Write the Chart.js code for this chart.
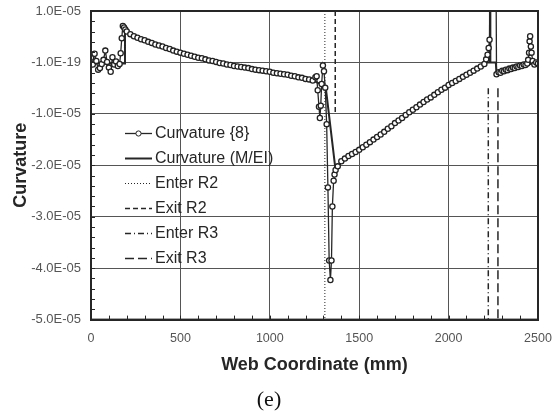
<!DOCTYPE html>
<html lang="en">
<head>
<meta charset="UTF-8">
<title>Curvature along web</title>
<style>
  html, body { margin: 0; padding: 0; background: #fff; }
  #wrap { width: 555px; height: 418px; }
</style>
</head>
<body>
<div id="wrap"><canvas id="chart" width="555" height="418"></canvas></div>

<script src="https://cdn.jsdelivr.net/npm/chart.js"></script>
<script>
  // values are in units of 1e-6 (converted below)
  const curv8X = [0, 10, 20, 30, 40, 50, 60, 70, 80, 90, 100, 110, 120, 130, 140, 150, 160, 166, 172, 178, 185, 192, 200,
    220, 240, 260, 280, 300, 320, 340, 360, 380, 400, 420, 440, 460, 480, 500, 520, 540, 560, 580, 600,
    620, 640, 660, 680, 700, 720, 740, 760, 780, 800, 820, 840, 860, 880, 900, 920, 940, 960, 980, 1000,
    1020, 1040, 1060, 1080, 1100, 1120, 1140, 1160, 1180, 1200, 1220, 1240,
    1255, 1262, 1268, 1275, 1280, 1285, 1290, 1297, 1303, 1310, 1318, 1325, 1332, 1339, 1345, 1350, 1357, 1362, 1368,
    1380, 1400, 1420, 1440, 1460, 1480, 1500, 1520, 1540, 1560, 1580, 1600, 1620, 1640, 1660, 1680, 1700,
    1720, 1740, 1760, 1780, 1800, 1820, 1840, 1860, 1880, 1900, 1920, 1940, 1960, 1980, 2000,
    2020, 2040, 2060, 2080, 2100, 2120, 2140, 2160, 2180, 2200,
    2210, 2218, 2224, 2229, 2234, 2262, 2268,
    2280, 2290, 2300, 2310, 2320, 2330, 2340, 2350, 2360, 2370, 2380, 2390, 2400, 2410, 2420, 2430, 2440,
    2445, 2450, 2453, 2456, 2460, 2464, 2470, 2480, 2490, 2500];
  const curv8Y = [0.9, -0.4, 1.7, 0.3, -1.4, -1.1, -0.3, 0.5, 2.3, 0.1, -1.0, -1.8, 1.0, -0.4, 0.2, -0.7, -0.3, 1.8, 4.7, 7.1, 6.8, 6.4, 6.0,
    5.5, 5.1, 4.8, 4.5, 4.3, 4.0, 3.8, 3.5, 3.3, 3.1, 2.8, 2.6, 2.3, 2.1, 1.9, 1.7, 1.5, 1.3, 1.1, 0.9,
    0.8, 0.6, 0.4, 0.3, 0.1, -0.1, -0.2, -0.4, -0.5, -0.7, -0.8, -0.9, -1.0, -1.1, -1.3, -1.4, -1.5, -1.6, -1.7, -1.8,
    -2.0, -2.1, -2.2, -2.3, -2.4, -2.6, -2.7, -2.9, -3.0, -3.2, -3.3, -3.5,
    -2.9, -2.7, -5.4, -8.6, -10.8, -8.4, -4.2, -0.6, -1.7, -4.9, -12.0, -24.3, -38.5, -42.3, -38.5, -28.0, -23.0, -21.8, -20.9,
    -20.2, -19.2, -18.7, -18.2, -17.8, -17.4, -17.0, -16.5, -16.0, -15.5, -15.0, -14.5, -14.0, -13.5, -12.9, -12.4, -11.8,
    -11.3, -10.8, -10.2, -9.7, -9.2, -8.7, -8.2, -7.7, -7.2, -6.8, -6.3, -5.8, -5.3, -4.9, -4.4,
    -4.0, -3.6, -3.2, -2.8, -2.4, -2.0, -1.6, -1.2, -0.8, -0.3,
    0.6, 1.5, 2.8, 4.4, 40, 40, -2.3,
    -1.9, -2.0, -1.6, -1.7, -1.4, -1.5, -1.2, -1.3, -1.0, -1.1, -0.8, -0.9, -0.6, -0.7, -0.4, -0.5, -0.2,
    0.5, 1.9, 4.1, 5.1, 3.1, 1.9, 0.3, -0.4, 0.0, -0.2];

  const meiX = [0, 185, 190, 200, 300, 400, 500, 700, 1000, 1240, 1290, 1313, 1368, 1400, 1500, 1700, 2000, 2200,
    2206, 2231, 2232, 2233, 2234, 2264, 2268, 2300, 2400, 2500];
  const meiY = [-0.2, -0.2, 6.8, 6.0, 4.3, 3.1, 1.9, 0.1, -1.8, -3.5, -4.3, -4.9, -21.0, -19.4, -17.0, -12.0, -4.4, -0.3,
    0.0, 0.0, 40, 40, 0.0, 0.0, -2.2, -1.7, -0.7, 0.0];

  // region boundaries: x position, y from / to (1e-6)
  const enterR2 = [1308, 10, -50];
  const exitR2 = [1366, 10, -10];
  const enterR3 = [2222, -5, -50];
  const exitR3 = [2276, -5, -50];

  const xTicks = [0, 500, 1000, 1500, 2000, 2500];
  const yTicks = [1e-5, 0, -1e-5, -2e-5, -3e-5, -4e-5, -5e-5];

  const toPts = (xs, ys) => xs.map((x, i) => ({ x: x, y: ys[i] * 1e-6 }));
  const vline = (v) => [{ x: v[0], y: v[1] * 1e-6 }, { x: v[0], y: v[2] * 1e-6 }];

  function fmtE(v) {
    if (Math.abs(v) < 1e-12) return '-1.0E-19';
    const parts = v.toExponential(1).split('e');
    const ex = parseInt(parts[1], 10);
    return parts[0] + 'E' + (ex < 0 ? '-' : '+') + String(Math.abs(ex)).padStart(2, '0');
  }

  // keep tick label overhang out of the layout, the page padding handles it
  function noPad(s) {
    s.paddingTop = 0; s.paddingBottom = 0; s.paddingLeft = 0; s.paddingRight = 0;
  }

  const INK = '#262626';
  const FONT = "'Liberation Sans', Arial, sans-serif";

  // frame, minor ticks and the in-plot legend
  const extras = {
    id: 'extras',
    beforeDraw(chart) {
      const c = chart.ctx;
      c.save();
      c.fillStyle = '#fff';
      c.fillRect(0, 0, chart.width, chart.height);
      c.restore();
    },
    afterDraw(chart) {
      const c = chart.ctx;
      const a = chart.chartArea;
      const xs = chart.scales.x, ys = chart.scales.y;
      c.save();
      c.strokeStyle = INK;
      c.lineWidth = 1;
      for (let i = 0; i <= 30; i++) {
        const py = Math.round(ys.getPixelForValue(-5e-5 + i * 2e-6)) + 0.5;
        c.beginPath(); c.moveTo(a.left, py); c.lineTo(a.left + 4, py); c.stroke();
      }
      for (let i = 0; i <= 25; i++) {
        const px = Math.round(xs.getPixelForValue(i * 100)) + 0.5;
        c.beginPath(); c.moveTo(px, a.bottom); c.lineTo(px, a.bottom - 4); c.stroke();
      }
      c.lineWidth = 2;
      c.strokeRect(a.left, a.top, a.right - a.left, a.bottom - a.top);

      // legend
      const lx0 = 125, lx1 = 152, ty0 = 133, step = 25;
      c.font = '16px ' + FONT;
      c.textBaseline = 'middle';
      c.fillStyle = INK;
      chart.data.datasets.forEach((ds, i) => {
        const y = ty0 + i * step + 0.5;
        c.strokeStyle = ds.borderColor;
        c.lineWidth = ds.borderWidth;
        c.setLineDash(ds.borderDash || []);
        c.beginPath(); c.moveTo(lx0, y); c.lineTo(lx1, y); c.stroke();
        c.setLineDash([]);
        if (ds.pointRadius > 0) {
          c.beginPath();
          c.arc((lx0 + lx1) / 2, y, ds.pointRadius, 0, Math.PI * 2);
          c.fillStyle = '#fff'; c.fill();
          c.lineWidth = 1; c.strokeStyle = ds.pointBorderColor; c.stroke();
        }
        c.fillStyle = INK;
        c.fillText(ds.label, lx1 + 3, y);
      });
      c.restore();
    }
  };

  const ctx = document.getElementById('chart').getContext('2d');
  new Chart(ctx, {
    type: 'scatter',
    data: {
      datasets: [
        { label: 'Curvature {8}', data: toPts(curv8X, curv8Y), showLine: true, borderColor: INK, borderWidth: 1.3,
          pointRadius: 2.6, pointBackgroundColor: '#fff', pointBorderColor: '#222', pointBorderWidth: 1.3 },
        { label: 'Curvature (M/EI)', data: toPts(meiX, meiY), showLine: true, borderColor: INK, borderWidth: 2, pointRadius: 0 },
        { label: 'Enter R2', data: vline(enterR2), showLine: true, borderColor: INK, borderWidth: 1, borderDash: [1, 2], pointRadius: 0 },
        { label: 'Exit R2', data: vline(exitR2), showLine: true, borderColor: INK, borderWidth: 1.5, borderDash: [5, 3], pointRadius: 0 },
        { label: 'Enter R3', data: vline(enterR3), showLine: true, borderColor: INK, borderWidth: 1.5, borderDash: [6, 3, 1, 3], pointRadius: 0 },
        { label: 'Exit R3', data: vline(exitR3), showLine: true, borderColor: INK, borderWidth: 1.5, borderDash: [9, 4], pointRadius: 0 }
      ]
    },
    options: {
      responsive: false,
      animation: false,
      layout: { padding: { left: 0, right: 17, top: 11, bottom: 0 } },
      plugins: {
        legend: { display: false },
        tooltip: { enabled: false },
        title: {
          display: true, text: '(e)', position: 'bottom', color: '#111',
          font: { family: "'Liberation Serif', 'Times New Roman', serif", size: 22, weight: 'normal' },
          padding: { top: 0, bottom: 5 }
        }
      },
      scales: {
        x: {
          type: 'linear', min: 0, max: 2500,
          afterBuildTicks(s) { s.ticks = xTicks.map(v => ({ value: v })); },
          afterFit(s) { s.height = 67; noPad(s); },
          ticks: { color: '#555', padding: 11, font: { family: FONT, size: 12.5 }, maxRotation: 0,
            callback: v => String(v) },
          grid: { color: '#555', lineWidth: 1, drawTicks: false },
          border: { color: INK, width: 2 },
          title: { display: true, text: 'Web Coordinate (mm)', color: INK,
            font: { family: FONT, size: 18, weight: 'bold' }, padding: { top: 0, bottom: 11 } }
        },
        y: {
          type: 'linear', min: -5e-5, max: 1e-5,
          afterBuildTicks(s) { s.ticks = yTicks.map(v => ({ value: v })); },
          afterFit(s) { s.width = 91; noPad(s); },
          ticks: { color: '#555', padding: 10, font: { family: FONT, size: 13 }, callback: v => fmtE(v) },
          grid: { color: '#555', lineWidth: 1, drawTicks: false },
          border: { color: INK, width: 2 },
          title: { display: true, text: 'Curvature', color: INK,
            font: { family: FONT, size: 18, weight: 'bold' }, padding: { top: 10, bottom: 0 } }
        }
      }
    },
    plugins: [extras]
  });
</script>
</body>
</html>
